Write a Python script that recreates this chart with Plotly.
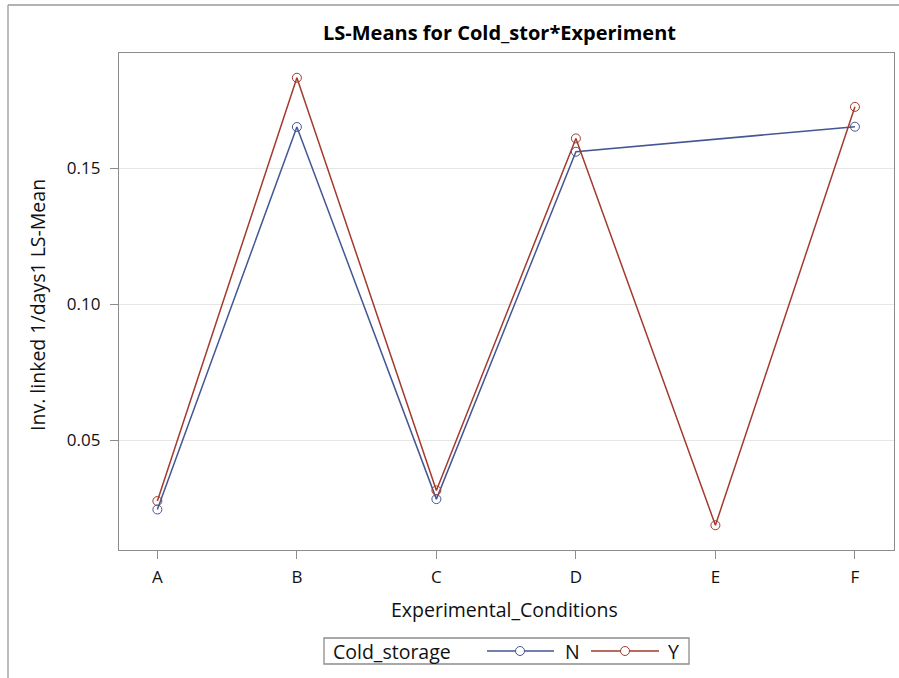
import plotly.graph_objects as go

categories = ["A", "B", "C", "D", "E", "F"]
n_vals = [0.0246, 0.1652, 0.0284, 0.1561, None, 0.1653]
y_vals = [0.0277, 0.1833, 0.0316, 0.1610, 0.0188, 0.1726]
y_ticks = [0.05, 0.10, 0.15]
series_names = ["N", "Y"]
title_text = "LS-Means for Cold_stor*Experiment"
x_title = "Experimental_Conditions"
y_title = "Inv. linked 1/days1 LS-Mean"
legend_title = "Cold_storage"

BLUE = "#445694"
RED = "#A23A2E"
FONT = "Open Sans"
TXT = "#111"

W, H = 899, 678
L, R, T, B = 119, 5, 53, 128
PW = W - L - R
PH = H - T - B


def px(x):
    return (x - L) / PW


def py(y):
    return (H - B - y) / PH


fig = go.Figure()
for name, vals, col in [(series_names[0], n_vals, BLUE), (series_names[1], y_vals, RED)]:
    fig.add_trace(go.Scatter(
        x=categories, y=vals, name=name, mode="lines+markers",
        connectgaps=True,
        line=dict(color=col, width=1.5),
        marker=dict(symbol="circle-open", size=9, color=col, line=dict(width=1, color=col)),
        showlegend=False,
    ))

axis_col = "#8c8c8c"
fig.update_xaxes(
    type="category", range=[-0.275, 5.28],
    showline=True, linecolor=axis_col, linewidth=1.3, mirror=True,
    ticks="outside", ticklen=8, tickcolor=axis_col, tickwidth=1.3,
    ticklabelstandoff=3,
    showgrid=False, zeroline=False,
    tickfont=dict(family=FONT, size=17, color=TXT),
)
fig.update_yaxes(
    range=[0.0097, 0.1924], tickvals=y_ticks, tickformat=".2f",
    showline=True, linecolor=axis_col, linewidth=1.3, mirror=True,
    ticks="outside", ticklen=8, tickcolor=axis_col, tickwidth=1.3,
    ticklabelstandoff=6,
    showgrid=True, gridcolor="#e6e6e6", gridwidth=1.3, zeroline=False,
    tickfont=dict(family=FONT, size=17, color=TXT),
)

ann = []
ann.append(dict(text="<b>" + title_text + "</b>", x=px(499), y=py(33), xref="paper", yref="paper",
                showarrow=False, xanchor="center", yanchor="middle",
                font=dict(family=FONT, size=20, color="#000")))
ann.append(dict(text=x_title, x=px(504), y=py(609), xref="paper", yref="paper",
                showarrow=False, xanchor="center", yanchor="middle",
                font=dict(family=FONT, size=19.5, color=TXT)))
ann.append(dict(text=y_title, x=px(37), y=py(305), xref="paper", yref="paper",
                showarrow=False, xanchor="center", yanchor="middle", textangle=-90,
                font=dict(family=FONT, size=19.5, color=TXT)))

# legend (drawn manually to match SAS style)
leg_y = 651
ann.append(dict(text=legend_title, x=px(331), y=py(leg_y), xref="paper", yref="paper",
                showarrow=False, xanchor="left", yanchor="middle",
                font=dict(family=FONT, size=19.5, color=TXT)))
ann.append(dict(text=series_names[0], x=px(563), y=py(leg_y), xref="paper", yref="paper",
                showarrow=False, xanchor="left", yanchor="middle",
                font=dict(family=FONT, size=19.5, color=TXT)))
ann.append(dict(text=series_names[1], x=px(666), y=py(leg_y), xref="paper", yref="paper",
                showarrow=False, xanchor="left", yanchor="middle",
                font=dict(family=FONT, size=19.5, color=TXT)))

shapes = []
# outer frame of the graph (left and top edges visible)
shapes.append(dict(type="line", xref="paper", yref="paper", x0=px(8), x1=px(8), y0=py(5), y1=py(700),
                   line=dict(color="#9a9a9a", width=1.3), layer="below"))
shapes.append(dict(type="line", xref="paper", yref="paper", x0=px(8), x1=px(920), y0=py(5), y1=py(5),
                   line=dict(color="#9a9a9a", width=1.3), layer="below"))
# legend box
shapes.append(dict(type="rect", xref="paper", yref="paper", x0=px(324), x1=px(689), y0=py(664), y1=py(638),
                   line=dict(color="#8c8c8c", width=1.3)))
for (x0, x1, xm, col) in [(487, 554, 520, BLUE), (591, 659, 625, RED)]:
    shapes.append(dict(type="line", xref="paper", yref="paper", x0=px(x0), x1=px(x1), y0=py(leg_y), y1=py(leg_y),
                       line=dict(color=col, width=1.5)))
    shapes.append(dict(type="circle", xref="paper", yref="paper", x0=px(xm - 4.5), x1=px(xm + 4.5),
                       y0=py(leg_y + 4.5), y1=py(leg_y - 4.5),
                       line=dict(color=col, width=1), fillcolor="white"))

fig.update_layout(
    width=W, height=H, margin=dict(l=L, r=R, t=T, b=B, pad=0),
    paper_bgcolor="white", plot_bgcolor="white",
    showlegend=False, annotations=ann, shapes=shapes,
    font=dict(family=FONT),
)

fig.write_html("out.html", config={"displayModeBar": False},
               post_script="document.body.style.margin='0';document.body.style.overflow='hidden';"
                           "document.documentElement.style.overflow='hidden';")
